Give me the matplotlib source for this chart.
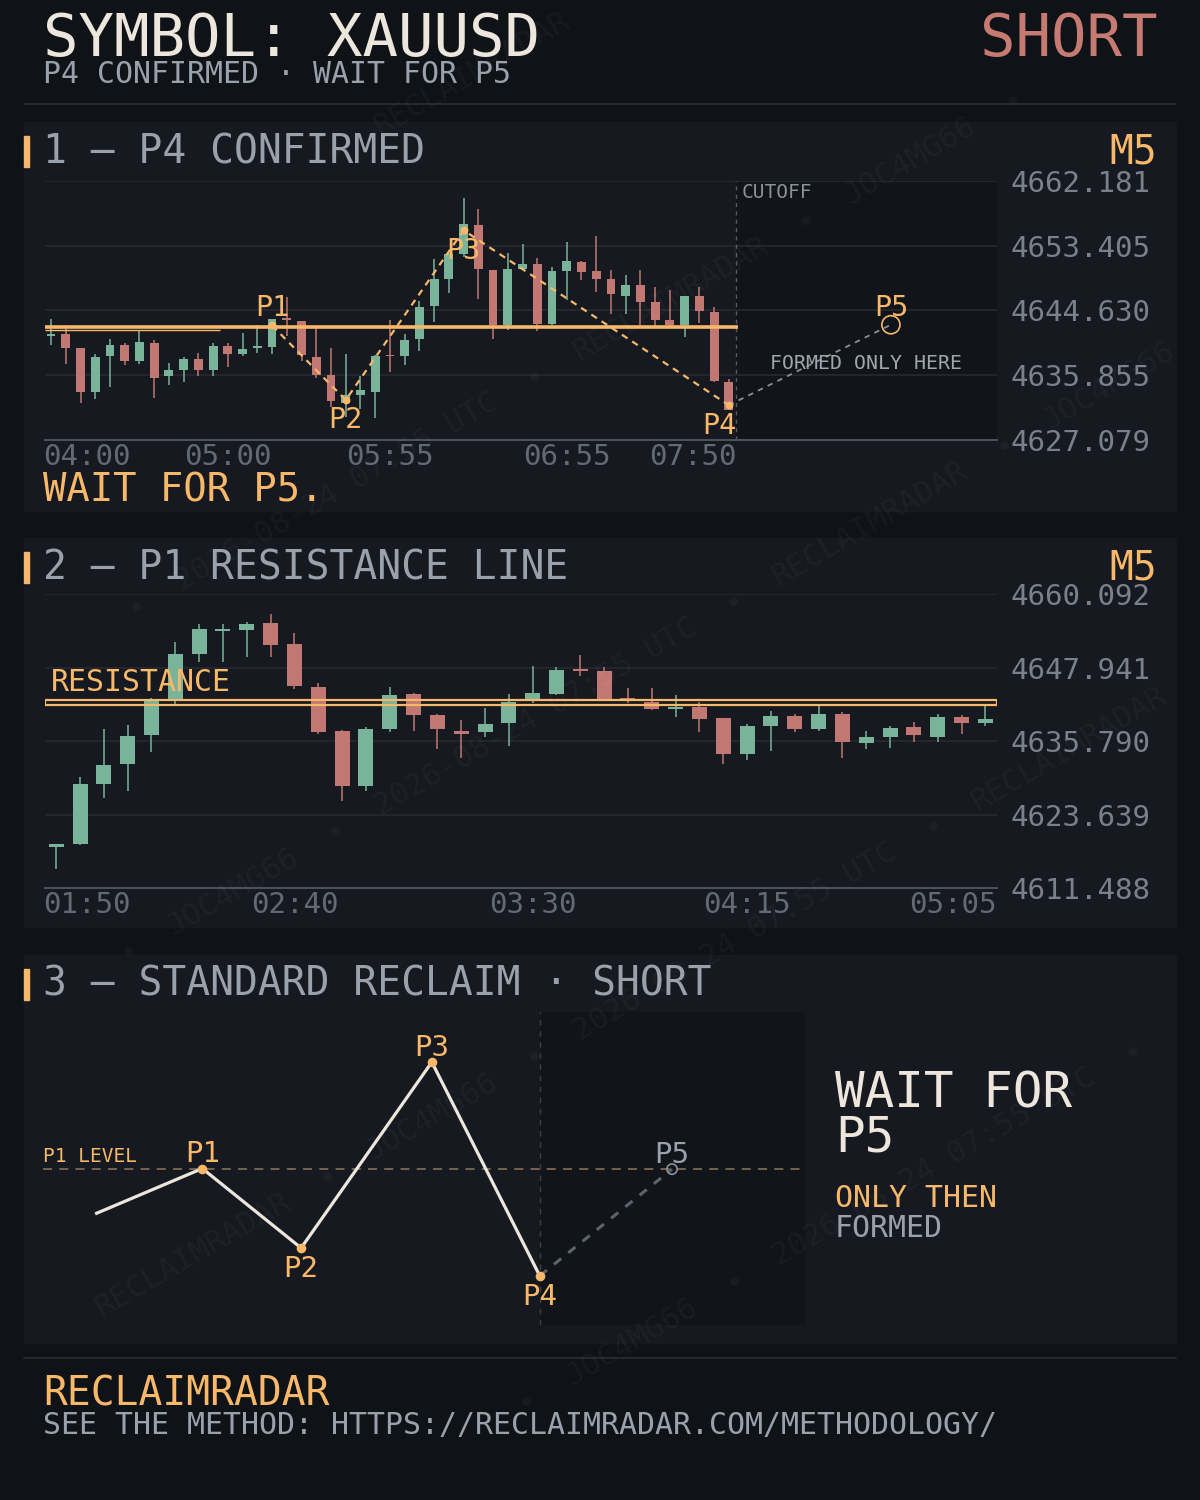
import numpy as np
import matplotlib.pyplot as plt
from matplotlib.patches import Rectangle
from matplotlib.lines import Line2D

plt.rcParams['font.family'] = ['DejaVu Sans Mono', 'DejaVu Sans']

# ---------------- data ----------------
# panel 1: M5 candles 04:00 -> 07:50
p1_open = [4641.2, 4641.4, 4639.5, 4633.6, 4638.4, 4640.0, 4637.8, 4640.2, 4635.7, 4636.6,
           4638.1, 4636.6, 4639.8, 4638.8, 4639.5, 4639.7, 4643.5, 4643.2, 4638.3, 4635.9,
           4632.1, 4633.2, 4633.6, 4638.6, 4638.4, 4640.8, 4645.2, 4648.9, 4652.3, 4656.2,
           4650.1, 4642.6, 4650.3, 4650.9, 4642.8, 4650.0, 4651.2, 4650.0, 4648.9, 4646.6,
           4648.1, 4645.8, 4643.4, 4642.7, 4646.6, 4644.4, 4634.9]
p1_high = [4643.5, 4642.6, 4639.6, 4638.7, 4640.8, 4640.2, 4641.9, 4640.6, 4637.5, 4638.3,
           4638.9, 4640.2, 4640.2, 4641.6, 4642.7, 4643.5, 4646.5, 4643.2, 4642.2, 4639.6,
           4638.8, 4635.7, 4638.6, 4643.3, 4641.5, 4645.9, 4651.6, 4652.4, 4659.9, 4658.4,
           4650.1, 4652.4, 4653.6, 4651.8, 4650.5, 4653.9, 4651.3, 4654.7, 4650.1, 4649.4,
           4650.1, 4647.8, 4647.4, 4646.6, 4647.8, 4645.1, 4635.4]
p1_low = [4639.9, 4637.4, 4632.1, 4632.7, 4634.3, 4637.2, 4637.4, 4632.8, 4634.6, 4634.9,
          4635.8, 4635.7, 4637.0, 4638.4, 4638.9, 4638.8, 4641.2, 4637.8, 4635.5, 4631.6,
          4630.2, 4631.3, 4630.0, 4636.3, 4637.3, 4639.2, 4643.1, 4647.0, 4651.9, 4646.2,
          4640.7, 4642.0, 4650.1, 4641.9, 4642.7, 4646.1, 4648.7, 4647.2, 4644.1, 4644.2,
          4642.6, 4642.2, 4642.2, 4641.0, 4643.0, 4635.0, 4631.1]
p1_close = [4641.5, 4639.6, 4633.6, 4638.3, 4640.0, 4637.8, 4640.4, 4635.5, 4636.6, 4638.1,
            4636.6, 4639.8, 4638.8, 4639.4, 4639.8, 4643.5, 4643.3, 4638.6, 4635.9, 4632.4,
            4633.2, 4633.8, 4638.5, 4638.4, 4640.6, 4645.1, 4648.9, 4652.3, 4656.4, 4650.3,
            4642.7, 4650.3, 4650.9, 4642.8, 4650.0, 4651.3, 4649.9, 4648.9, 4646.8, 4648.1,
            4645.8, 4643.4, 4642.7, 4646.6, 4644.5, 4635.1, 4631.1]
p1_xticks = [0, 12, 23, 35, 46]
p1_xlabels = ['04:00', '05:00', '05:55', '06:55', '07:50']
p1_yticks = [4627.079, 4635.855, 4644.630, 4653.405, 4662.181]
p1_pivot_idx = [15, 20, 28, 46]
p1_pivot_px = [4642.6, 4632.5, 4655.5, 4631.8]
p1_pivot_names = ['P1', 'P2', 'P3', 'P4']
p1_level = 4642.4
p1_cutoff = 46.5
p5_idx, p5_px = 57, 4642.7

# panel 2: M5 candles 01:50 -> 05:05
p2_open = [4618.2, 4618.8, 4628.7, 4632.0, 4636.7, 4642.6, 4650.2, 4654.0, 4654.2, 4655.3,
           4651.8, 4644.7, 4637.4, 4628.4, 4637.8, 4643.6, 4640.1, 4637.4, 4637.2, 4638.7,
           4642.6, 4643.6, 4647.7, 4647.4, 4642.9, 4642.2, 4641.1, 4641.4, 4639.6, 4633.7,
           4638.3, 4639.9, 4637.8, 4640.3, 4635.5, 4636.5, 4638.1, 4636.5, 4639.8, 4638.8]
p2_high = [4618.8, 4629.8, 4637.8, 4638.4, 4642.9, 4652.2, 4655.1, 4655.1, 4655.5, 4656.8,
           4653.6, 4645.4, 4637.6, 4638.1, 4644.7, 4643.7, 4640.3, 4639.3, 4641.3, 4643.6,
           4648.2, 4648.0, 4650.0, 4648.0, 4644.6, 4644.6, 4643.4, 4642.3, 4639.6, 4638.6,
           4640.8, 4640.3, 4641.7, 4640.6, 4637.4, 4638.3, 4638.9, 4640.3, 4640.1, 4641.6]
p2_low = [4614.7, 4618.6, 4626.4, 4627.6, 4633.9, 4641.9, 4648.9, 4648.9, 4649.6, 4649.7,
          4644.4, 4637.0, 4625.8, 4627.6, 4637.2, 4637.5, 4634.5, 4633.0, 4636.5, 4635.0,
          4642.0, 4643.4, 4646.6, 4642.6, 4642.0, 4640.9, 4639.8, 4637.3, 4632.0, 4632.7,
          4634.2, 4637.2, 4637.5, 4632.9, 4634.5, 4634.7, 4635.7, 4635.7, 4637.0, 4638.3]
p2_close = [4618.8, 4628.7, 4631.8, 4636.6, 4642.6, 4650.2, 4654.3, 4654.3, 4655.1, 4651.7,
            4644.9, 4637.3, 4628.4, 4637.8, 4643.4, 4640.1, 4637.7, 4637.0, 4638.6, 4642.2,
            4643.7, 4647.5, 4647.4, 4642.8, 4642.4, 4641.1, 4641.4, 4639.5, 4633.7, 4638.3,
            4639.9, 4637.8, 4640.3, 4635.7, 4636.5, 4637.9, 4636.7, 4639.8, 4638.8, 4639.4]
p2_xticks = [0, 10, 20, 29, 39]
p2_xlabels = ['01:50', '02:40', '03:30', '04:15', '05:05']
p2_yticks = [4611.488, 4623.639, 4635.790, 4647.941, 4660.092]
p2_res_low, p2_res_high = 4641.8, 4642.6

# panel 3: schematic reclaim (relative units)
schem_x = [0.066, 0.207, 0.337, 0.509, 0.651, 0.825]
schem_y = [0.355, 0.500, 0.246, 0.840, 0.157, 0.498]
schem_names = ['', 'P1', 'P2', 'P3', 'P4', 'P5']
schem_level = 0.5
schem_cutoff = 0.651

wm_tokens = ['RECLAIMRADAR', '•', 'JOC4MG66', '•', '2026-08-24 07:55 UTC', '•']

# ---------------- style ----------------
W, H = 1200, 1500
BG = '#0f1217'
PANEL = '#161920'
DARK = '#111419'
GRID = '#282b32'
AXLINE = '#4f535b'
GREEN = '#79b399'
RED = '#c27872'
ORANGE = '#f7b86a'
CREAM = '#ece6dd'
GRAY = '#9aa1ab'
YTICK = '#7a818b'
XTICK = '#636a74'


def fx(x):
    return x / W


def fy(y):
    return 1 - y / H


fig = plt.figure(figsize=(12, 15), dpi=100, facecolor=BG)


def fig_text(x, y, s, **kw):
    kw.setdefault('va', 'baseline')
    fig.text(fx(x), fy(y), s, **kw)


def hline_px(y, x0=24, x1=1176, color='#2a2d33'):
    fig.add_artist(Line2D([fx(x0), fx(x1)], [fy(y), fy(y)], transform=fig.transFigure,
                          color=color, lw=1.2, zorder=-4))


def add_axes_px(box):
    x0, y0, x1, y1 = box
    ax = fig.add_axes([fx(x0), fy(y1), (x1 - x0) / W, (y1 - y0) / H])
    ax.set_facecolor('none')
    return ax


def panel(y0, y1, title, title_base, tag=None):
    fig.add_artist(Rectangle((fx(24), fy(y1)), (1176 - 24) / W, (y1 - y0) / H,
                             transform=fig.transFigure, color=PANEL, zorder=-5))
    fig.add_artist(Rectangle((fx(24), fy(title_base + 4)), 5 / W, 31 / H,
                             transform=fig.transFigure, color=ORANGE, zorder=-3))
    fig_text(43, title_base, title, fontsize=28.5, color=GRAY)
    if tag:
        fig_text(1157, title_base, tag, fontsize=28.5, color=ORANGE, ha='right')


def draw_candles(ax, o, h, l, c, width, min_h):
    o, h, l, c = map(np.asarray, (o, h, l, c))
    x = np.arange(len(o))
    colors = np.where(c >= o, GREEN, RED)
    ax.vlines(x, l, h, colors=colors, lw=1.1, zorder=3)
    ax.bar(x, np.maximum(np.abs(c - o), min_h), width, bottom=np.minimum(o, c),
           color=colors, zorder=3)


def price_axis(ax, yticks):
    ax.set_ylim(yticks[0], yticks[-1])
    ax.set_yticks(yticks, [f'{v:.3f}' for v in yticks])
    ax.yaxis.tick_right()
    ax.tick_params(axis='y', length=0, pad=9.5, labelsize=21, labelcolor=YTICK)
    ax.set_xticks([])
    ax.grid(axis='y', color=GRID, lw=1.1)
    ax.set_axisbelow(True)
    for s in ax.spines.values():
        s.set_visible(False)
    ax.spines['bottom'].set_visible(True)
    ax.spines['bottom'].set_color(AXLINE)
    ax.spines['bottom'].set_linewidth(1.4)


def time_labels(ax, box, xlim, ticks, labels, right_px, size=21):
    # labels centred on their candle, but kept inside the plot like the original
    x0, _, x1, _ = box
    cw = 0.602 * size * 100 / 72
    for t, lab in zip(ticks, labels):
        c = x0 + (t - xlim[0]) / (xlim[1] - xlim[0]) * (x1 - x0)
        half = len(lab) * cw / 2
        c = min(max(c, x0 - 2 + half), right_px - half)
        ax.annotate(lab, xy=((c - x0) / (x1 - x0), 0), xycoords='axes fraction',
                    xytext=(0, -2.5), textcoords='offset points', ha='center', va='top',
                    fontsize=size, color=XTICK)


# ---------------- watermark ----------------
wm_size = 22
cw = 0.602 * wm_size * 100 / 72
ang = np.deg2rad(30)
ux, uy = np.cos(ang), -np.sin(ang)
for row, cy in enumerate(range(-340, 1900, 340)):
    s = -1500 + row * 230
    k = 0
    while s < 1500:
        tok = wm_tokens[k % len(wm_tokens)]
        L = len(tok) * cw
        mid = s + L / 2
        x, y = 600 + mid * ux, cy + mid * uy
        hx, hy = L / 2 * ux + 6, -L / 2 * uy + 12
        if hx < x < W - hx and hy < y < H - hy:
            fig.text(fx(x), fy(y), tok, rotation=30, rotation_mode='anchor', ha='center',
                     va='center', fontsize=wm_size, color='white', alpha=0.035, zorder=10)
        s += L + 2 * cw
        k += 1

# ---------------- header ----------------
fig_text(43, 56, 'SYMBOL: XAUUSD', fontsize=42.5, color=CREAM)
fig_text(1157, 56, 'SHORT', fontsize=42.5, color='#c57a72', ha='right')
fig_text(43, 83, 'P4 CONFIRMED · WAIT FOR P5', fontsize=21.5, color=GRAY)
hline_px(104)

# ---------------- panel 1 ----------------
panel(122, 511, '1 — P4 CONFIRMED', 163, 'M5')
P1_BOX = (45, 181, 997, 440)
P1_XLIM = (-0.41, 64.2)
ax1 = add_axes_px(P1_BOX)
price_axis(ax1, p1_yticks)
ax1.set_xlim(*P1_XLIM)
ax1.axvspan(p1_cutoff, P1_XLIM[1], color=DARK, zorder=0.2)
ax1.axvline(p1_cutoff, color='#565b64', ls=(0, (3, 3)), lw=1, zorder=1)
draw_candles(ax1, p1_open, p1_high, p1_low, p1_close, 0.6, 0.25)
ax1.hlines(p1_level, P1_XLIM[0], p1_cutoff + 0.1, color=ORANGE, lw=2.6, zorder=4)
ax1.hlines(p1_level - 0.4, P1_XLIM[0], 11.5, color=ORANGE, lw=1.0, zorder=4)
ax1.plot(p1_pivot_idx, p1_pivot_px, color=ORANGE, ls=(0, (3, 2.5)), lw=1.6, zorder=5)
ax1.scatter(p1_pivot_idx, p1_pivot_px, s=32, color=ORANGE, zorder=6, lw=0)
ax1.plot([p1_pivot_idx[-1], p5_idx], [p1_pivot_px[-1], p5_px], color='#8a9099',
         ls=(0, (3, 3)), lw=1.3, zorder=5)
ax1.scatter([p5_idx], [p5_px], s=170, facecolors='none', edgecolors=ORANGE, lw=1.2, zorder=6)
p1_offsets = {'P1': (0, 7), 'P2': (0, -20), 'P3': (0, -21), 'P4': (-7, -21)}
for n, xi, yv in zip(p1_pivot_names, p1_pivot_idx, p1_pivot_px):
    ax1.annotate(n, (xi, yv), xytext=p1_offsets[n], textcoords='offset points',
                 ha='center', va='baseline', fontsize=20.5, color=ORANGE, zorder=7)
ax1.annotate('P5', (p5_idx, p5_px), xytext=(0, 6.5), textcoords='offset points',
             ha='center', va='baseline', fontsize=20.5, color=ORANGE, zorder=7)
ax1.annotate('CUTOFF', xy=(p1_cutoff, 1), xycoords=('data', 'axes fraction'),
             xytext=(3.6, -12.3), textcoords='offset points', va='baseline',
             fontsize=14, color='#8b9099')
ax1.text(0.862, 0.274, 'FORMED ONLY HERE', transform=ax1.transAxes, ha='center',
         va='baseline', fontsize=14.3, color='#a0a6ae', zorder=7)
time_labels(ax1, P1_BOX, P1_XLIM, p1_xticks, p1_xlabels, right_px=737)
fig_text(43, 501, 'WAIT FOR P5.', fontsize=28, color=ORANGE)

# ---------------- panel 2 ----------------
panel(538, 927, '2 — P1 RESISTANCE LINE', 579, 'M5')
P2_BOX = (45, 594, 997, 888)
P2_XLIM = (-0.47, 39.49)
ax2 = add_axes_px(P2_BOX)
price_axis(ax2, p2_yticks)
ax2.set_xlim(*P2_XLIM)
draw_candles(ax2, p2_open, p2_high, p2_low, p2_close, 0.63, 0.3)
ax2.add_patch(Rectangle((P2_XLIM[0], p2_res_low), P2_XLIM[1] - P2_XLIM[0],
                        p2_res_high - p2_res_low, fill=False, ec=ORANGE, lw=1.6, zorder=4))
ax2.annotate('RESISTANCE', xy=(0.006, p2_res_high), xycoords=('axes fraction', 'data'),
             xytext=(0, 6.5), textcoords='offset points', va='baseline',
             fontsize=21.5, color=ORANGE, zorder=7)
time_labels(ax2, P2_BOX, P2_XLIM, p2_xticks, p2_xlabels, right_px=997)

# ---------------- panel 3 ----------------
panel(955, 1343, '3 — STANDARD RECLAIM · SHORT', 996)
ax3 = add_axes_px((45, 1012, 805, 1325))
ax3.set_xlim(0, 1)
ax3.set_ylim(0, 1)
ax3.axis('off')
ax3.axvspan(schem_cutoff, 1, color=DARK, zorder=0)
ax3.axvline(schem_cutoff, color='#3b3f47', ls=(0, (4, 4)), lw=1, zorder=1)
ax3.axhline(schem_level, xmin=-0.003, color='#7d6a50', ls=(0, (5, 4)), lw=1.3, zorder=1,
            clip_on=False)
ax3.plot(schem_x[:5], schem_y[:5], color=CREAM, lw=2.3, zorder=3, solid_capstyle='butt')
ax3.plot(schem_x[4:], schem_y[4:], color='#5d636c', ls=(0, (3, 3)), lw=2.2, zorder=2)
ax3.scatter(schem_x[1:5], schem_y[1:5], s=48, color=ORANGE, zorder=4, lw=0)
ax3.scatter(schem_x[5:], schem_y[5:], s=55, facecolors='none', edgecolors='#8a9099',
            lw=1.2, zorder=4)
for i in range(1, 6):
    above = schem_y[i] >= schem_level - 0.01 or i == 3
    off = (0, 4.5) if above else (0, -21)
    ax3.annotate(schem_names[i], (schem_x[i], schem_y[i]), xytext=off,
                 textcoords='offset points', ha='center', va='baseline', fontsize=21,
                 color=GRAY if i == 5 else ORANGE, zorder=5)
ax3.annotate('P1 LEVEL', xy=(0, schem_level), xycoords='data', xytext=(-1.5, 5),
             textcoords='offset points', va='baseline', fontsize=14, color=ORANGE)

fig_text(835, 1107, 'WAIT FOR', fontsize=35.5, color=CREAM)
fig_text(835, 1151, 'P5', fontsize=35.5, color=CREAM)
fig_text(835, 1207, 'ONLY THEN', fontsize=21.5, color=ORANGE)
fig_text(835, 1237, 'FORMED', fontsize=21.5, color=GRAY)

# ---------------- footer ----------------
hline_px(1358)
fig_text(43, 1405, 'RECLAIMRADAR', fontsize=28.5, color=ORANGE)
fig_text(43, 1434, 'SEE THE METHOD: HTTPS://RECLAIMRADAR.COM/METHODOLOGY/', fontsize=21.5,
         color=GRAY)

fig.savefig('out.png', dpi=100, facecolor=BG)
